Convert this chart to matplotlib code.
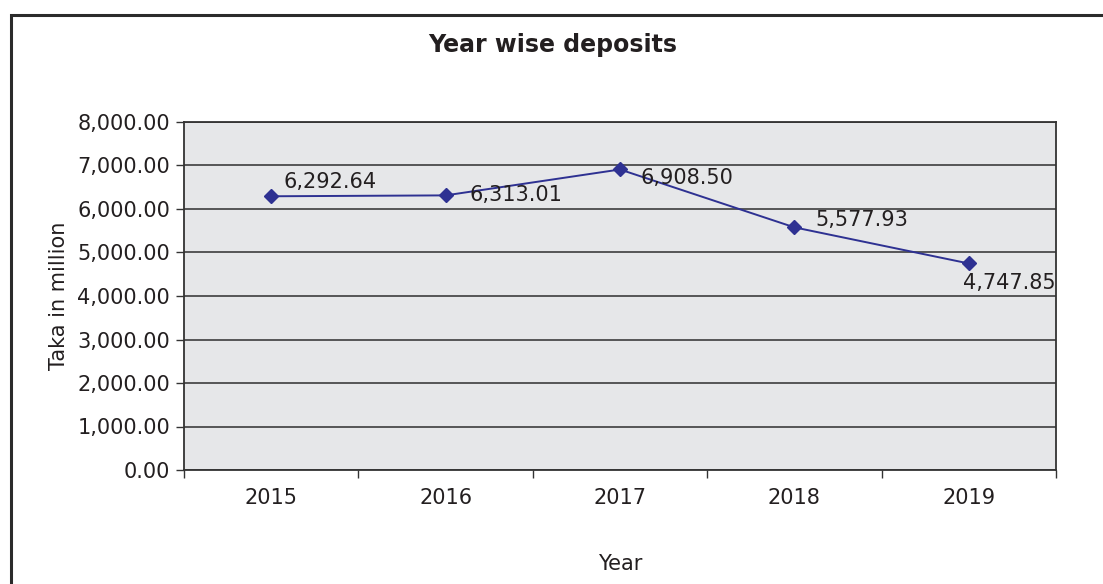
import matplotlib
matplotlib.use("Agg")
import matplotlib.pyplot as plt
from matplotlib.patches import Rectangle
from matplotlib.ticker import FixedLocator, FuncFormatter

years = ["2015", "2016", "2017", "2018", "2019"]
deposits = [6292.64, 6313.01, 6908.50, 5577.93, 4747.85]
y_ticks = [0, 1000, 2000, 3000, 4000, 5000, 6000, 7000, 8000]

# label offsets in points (dx, dy) and horizontal alignment for each point label
label_offsets = [(9, 10, "left"), (17, 0, "left"), (15, -6, "left"), (15, 5, "left"), (-4, -14, "left")]

plt.rcParams["font.family"] = ["DejaVu Sans"]
FS = 15

fig = plt.figure(figsize=(11.03, 5.84), dpi=100)
W, H = 1103, 584

# outer chart frame
fig.patches.append(Rectangle((11 / W, -0.1), 1.2, 1 - 15 / H + 0.1,
                             transform=fig.transFigure, fill=False,
                             edgecolor="#2b2b2b", linewidth=2.2))

ax = fig.add_axes([184 / W, 1 - 470 / H, (1056 - 184) / W, (470 - 122) / H])
ax.set_facecolor("#e6e7e9")

x = list(range(len(years)))
ax.plot(x, deposits, color="#2e3192", linewidth=1.4, marker="D",
        markersize=7.5, markerfacecolor="#2e3192", markeredgecolor="#2e3192",
        zorder=3)

for xi, v, (dx, dy, ha) in zip(x, deposits, label_offsets):
    ax.annotate(f"{v:,.2f}", (xi, v), xytext=(dx, dy), textcoords="offset points",
                ha=ha, va="center", fontsize=FS, color="#231f20", zorder=4)

ax.set_xlim(-0.5, len(years) - 0.5)
ax.set_ylim(0, 8000)

ax.yaxis.set_major_locator(FixedLocator(y_ticks))
ax.yaxis.set_major_formatter(FuncFormatter(lambda v, p: f"{v:,.2f}"))
ax.grid(axis="y", color="#2f2f2f", linewidth=1.1)
ax.set_axisbelow(True)

ax.set_xticks(x)
ax.set_xticklabels(years)
ax.set_xticks([i - 0.5 for i in range(len(years) + 1)], minor=True)
ax.tick_params(axis="x", which="major", length=0, pad=13, labelsize=FS, colors="#231f20")
ax.tick_params(axis="x", which="minor", length=6, width=1, color="#333333")
ax.tick_params(axis="y", length=6, width=1, color="#333333", labelsize=FS,
               labelcolor="#231f20", pad=4)

for s in ax.spines.values():
    s.set_color("#333333")
    s.set_linewidth(1.3)

ax.set_ylabel("Taka in million", fontsize=FS, color="#231f20", labelpad=6)
ax.set_xlabel("Year", fontsize=FS, color="#231f20", labelpad=33)

fig.text(553 / W, 1 - 45 / H, "Year wise deposits", ha="center", va="center",
         fontsize=17, fontweight="bold", color="#231f20")

fig.savefig("out.png", dpi=100)
